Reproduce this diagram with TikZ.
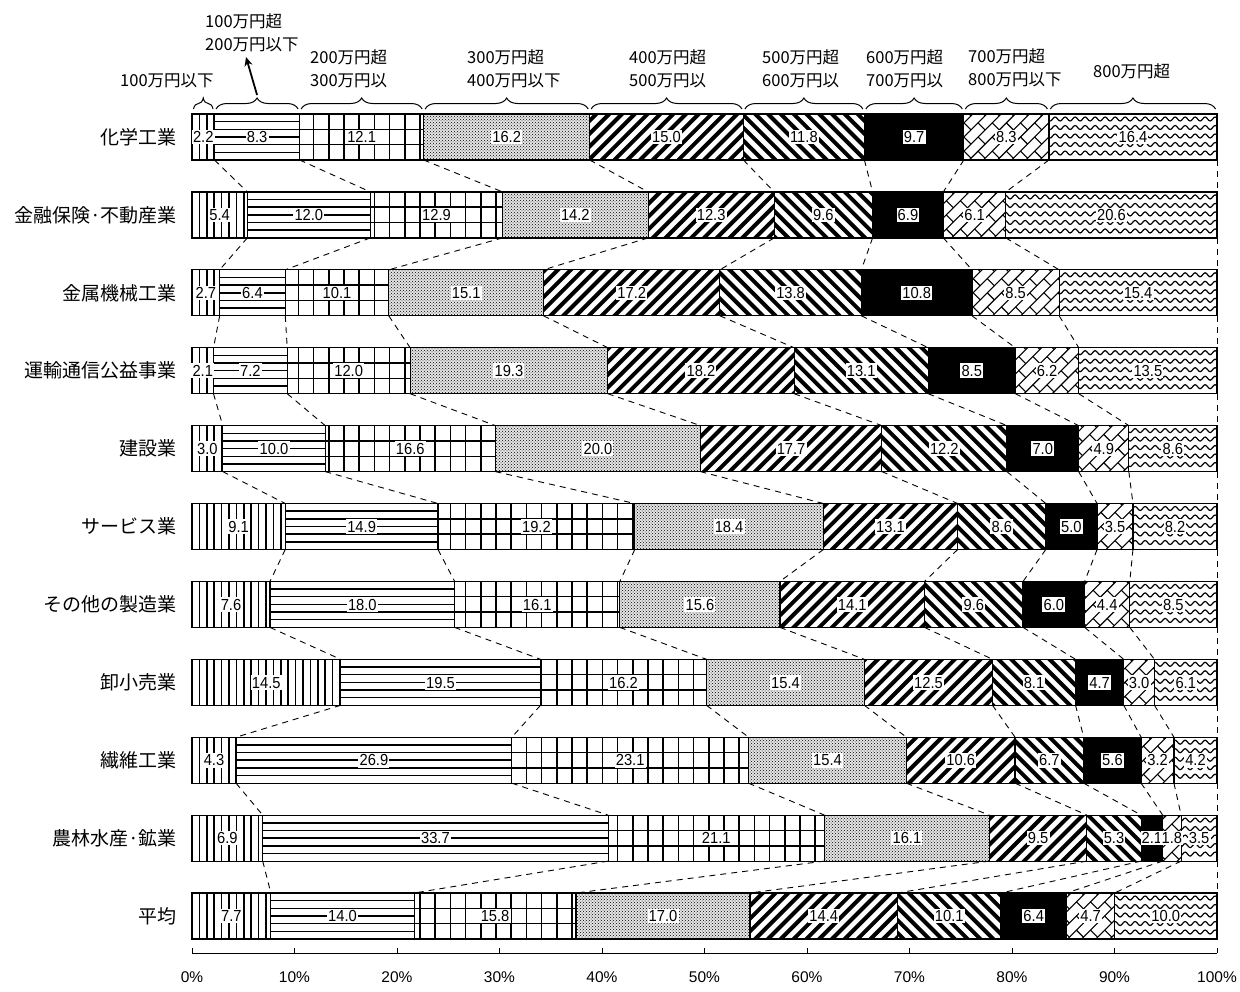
\documentclass[tikz,border=0pt]{standalone}
\usepackage{fontspec}
\setmainfont{Liberation Sans}
\newfontfamily\jp{Noto Sans CJK JP}
\newfontfamily\numfont[FakeStretch=0.92]{Liberation Sans}
\usetikzlibrary{patterns,decorations.pathmorphing,decorations.pathreplacing,arrows.meta,calc}

\tikzset{
  segborder/.style={draw=black, line width=1.2},
  numlbl/.style={fill=white, inner xsep=1.2pt, inner ysep=1.6pt, font=\numfont\fontsize{16}{17}\selectfont, text height=11.4pt, text depth=0pt},
  catlbl/.style={anchor=east, inner sep=0pt, font=\jp\fontsize{19}{20}\selectfont},
  hdr/.style={anchor=west, align=left, inner sep=0pt, font=\jp\fontsize{16.5}{23}\selectfont},
  conn/.style={draw=black, line width=0.9, dash pattern=on 6pt off 5pt},
  hbrace/.style={draw=black, line width=1, decorate, decoration={brace, amplitude=11pt}},
  axlbl/.style={font=\fontsize{15.5}{16}\selectfont},
  hline/.style={line width=1.5},
}

\newcommand\segfill[5]{%
\begin{scope}
\clip (#2,#4) rectangle (#3,#5);
\ifcase#1\relax\or
 \pgfmathtruncatemacro\ks{floor((#2-192)/7.4)}%
 \pgfmathtruncatemacro\ke{ceil((#3-192)/7.4)}%
 \foreach \k in {\ks,...,\ke}{\draw[line width=1.7] ({192+7.4*\k},#4) -- ({192+7.4*\k},#5);}%
\or
 \foreach \k in {1,...,5}{\draw[hline] (#2,{#4+46*\k/6}) -- (#3,{#4+46*\k/6});}%
\or
 \pgfmathtruncatemacro\ks{floor((#2-192)/15.2)}%
 \pgfmathtruncatemacro\ke{ceil((#3-192)/15.2)}%
 \foreach \k in {\ks,...,\ke}{\draw[hline] ({192+15.2*\k},#4) -- ({192+15.2*\k},#5);}%
 \foreach \k in {1,2}{\draw[hline] (#2,{#4+46*\k/3}) -- (#3,{#4+46*\k/3});}%
\or
 \fill[black!10] (#2,#4) rectangle (#3,#5);
 \fill[pattern=crosshatch dots] (#2,#4) rectangle (#3,#5);
\or
 \pgfmathtruncatemacro\ks{floor((#2-192-50)/12.8)}%
 \pgfmathtruncatemacro\ke{ceil((#3-192)/12.8)}%
 \foreach \k in {\ks,...,\ke}{\draw[line width=4] ({192+12.8*\k-2},{#5+2}) -- ++(50,-50);}%
\or
 \pgfmathtruncatemacro\ks{floor((#2-192-50)/12.8)}%
 \pgfmathtruncatemacro\ke{ceil((#3-192)/12.8)}%
 \foreach \k in {\ks,...,\ke}{\draw[line width=4] ({192+12.8*\k-2},{#4-2}) -- ++(50,50);}%
\or
 \fill[black] (#2,#4) rectangle (#3,#5);
\or
 \pgfmathsetmacro\cx{(#2+#3)/2}%
 \pgfmathsetmacro\cy{(#4+#5)/2}%
 \pgfmathtruncatemacro\R{ceil(sqrt(((#3-#2)/2)^2+23^2))+12}%
 \pgfmathtruncatemacro\nn{ceil(\R/10)}%
 \pgfmathtruncatemacro\nneg{-\nn}%
 \pgfmathtruncatemacro\mm{ceil(\R/20)}%
 \pgfmathtruncatemacro\mneg{-\mm}%
 \begin{scope}[shift={(\cx,\cy)}, rotate=45, line width=1.1]
  \foreach \n in {\nneg,...,\nn}{%
    \draw (-\R,{10*\n}) -- (\R,{10*\n});
    \foreach \m in {\mneg,...,\mm}{%
      \pgfmathsetmacro\uu{20*\m+10*mod(abs(\n),2)}%
      \draw (\uu,{10*\n}) -- (\uu,{10*\n+10});
    }%
  }%
 \end{scope}
\or
 \pgfmathsetmacro\xs{192+10*floor((#2-192)/10)-10}%
 \foreach \k in {0,...,4}{\draw[line width=1.2, decorate, decoration={snake, segment length=10pt, amplitude=2pt}] (\xs,{#4+5+8.5*\k}) -- ({#3+10},{#4+5+8.5*\k});}%
\fi
\end{scope}
\draw[segborder] (#2,#4) rectangle (#3,#5);
}

\newcommand\barrow[3]{%
 \pgfmathsetmacro\yt{114+77.9*#1}%
 \pgfmathsetmacro\yb{\yt+46}%
 \pgfmathsetmacro\yc{\yt+23}%
 \node[catlbl] (cat-#1) at (177,\yc) {#2};
 \gdef\tot{0}%
 \foreach \v in {#3}{\pgfmathsetmacro\tmp{\tot+\v}\xdef\tot{\tmp}}%
 \coordinate (b-#1-0-t) at (192,\yt);
 \coordinate (b-#1-0-b) at (192,\yb);
 \gdef\cum{0}%
 \foreach \v [count=\i] in {#3}{%
   \pgfmathsetmacro\xa{192+10.25*(\cum/\tot)*100}%
   \pgfmathsetmacro\tmp{\cum+\v}\xdef\cum{\tmp}%
   \pgfmathsetmacro\xb{192+10.25*(\cum/\tot)*100}%
   \segfill{\i}{\xa}{\xb}{\yt}{\yb}%
   \coordinate (b-#1-\i-t) at (\xb,\yt);
   \coordinate (b-#1-\i-b) at (\xb,\yb);
 }%
 \gdef\cum{0}%
 \foreach \v [count=\i] in {#3}{%
   \pgfmathsetmacro\xa{192+10.25*(\cum/\tot)*100}%
   \pgfmathsetmacro\tmp{\cum+\v}\xdef\cum{\tmp}%
   \pgfmathsetmacro\xb{192+10.25*(\cum/\tot)*100}%
   \node[numlbl] (v-#1-\i) at ({(\xa+\xb)/2},\yc) {\v};
 }%
}

\begin{document}
\begin{tikzpicture}[x=1pt,y=-1pt]
\useasboundingbox (0,0) rectangle (1240,991);
\fill[white] (0,0) rectangle (1240,991);

\barrow{0}{化学工業}{2.2,8.3,12.1,16.2,15.0,11.8,9.7,8.3,16.4}
\barrow{1}{金融保険·不動産業}{5.4,12.0,12.9,14.2,12.3,9.6,6.9,6.1,20.6}
\barrow{2}{金属機械工業}{2.7,6.4,10.1,15.1,17.2,13.8,10.8,8.5,15.4}
\barrow{3}{運輸通信公益事業}{2.1,7.2,12.0,19.3,18.2,13.1,8.5,6.2,13.5}
\barrow{4}{建設業}{3.0,10.0,16.6,20.0,17.7,12.2,7.0,4.9,8.6}
\barrow{5}{サービス業}{9.1,14.9,19.2,18.4,13.1,8.6,5.0,3.5,8.2}
\barrow{6}{その他の製造業}{7.6,18.0,16.1,15.6,14.1,9.6,6.0,4.4,8.5}
\barrow{7}{卸小売業}{14.5,19.5,16.2,15.4,12.5,8.1,4.7,3.0,6.1}
\barrow{8}{繊維工業}{4.3,26.9,23.1,15.4,10.6,6.7,5.6,3.2,4.2}
\barrow{9}{農林水産·鉱業}{6.9,33.7,21.1,16.1,9.5,5.3,2.1,1.8,3.5}
\barrow{10}{平均}{7.7,14.0,15.8,17.0,14.4,10.1,6.4,4.7,10.0}

% dashed connectors between rows
\foreach \r [evaluate=\r as \s using int(\r+1)] in {0,...,9}{
  \foreach \i in {1,...,9}{\draw[conn] (b-\r-\i-b) -- (b-\s-\i-t);}
}

% braces
\foreach \i [evaluate=\i as \j using int(\i-1)] in {1,...,9}{
  \draw[hbrace] ([shift={(1.5,-5)}]b-0-\j-t) -- ([shift={(-1.5,-5)}]b-0-\i-t);
}

% header labels
\node[hdr] (h1) at (120,81) {100万円以下};
\node[hdr] (h2) at (205,32.5) {100万円超\\200万円以下};
\node[hdr] (h3) at (310,69) {200万円超\\300万円以};
\node[hdr] (h4) at (467,69) {300万円超\\400万円以下};
\node[hdr] (h5) at (629,69) {400万円超\\500万円以};
\node[hdr] (h6) at (762,69) {500万円超\\600万円以};
\node[hdr] (h7) at (866,69) {600万円超\\700万円以};
\node[hdr] (h8) at (968,68) {700万円超\\800万円以下};
\node[hdr] (h9) at (1093,71) {800万円超};

\coordinate (tip2) at ($(b-0-1-t)!0.5!(b-0-2-t)+(0,-19)$);
\coordinate (arrE) at (246,57);
\draw[line width=1.8, -{Stealth[length=9pt,width=8pt]}] (tip2) -- (arrE);

% axis
\coordinate (ax0) at (192,953);
\coordinate (ax10) at (1217,953);
\draw[line width=1] (ax0) -- (ax10);
\foreach \i in {0,...,10}{
  \coordinate (tk\i) at ({192+102.5*\i},953);
  \draw[line width=1] (tk\i) -- ++(0,-5);
  \pgfmathtruncatemacro\pc{10*\i}
  \node[axlbl] (al\i) at ({192+102.5*\i},977) {\pc\%};
}
\end{tikzpicture}
\end{document}
